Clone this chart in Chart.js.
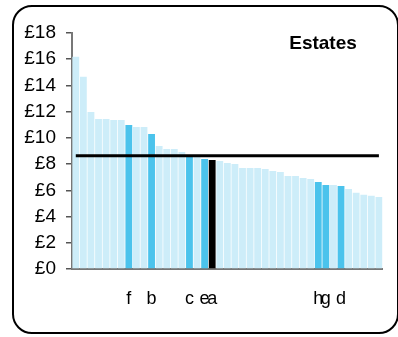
<!DOCTYPE html>
<html>
<head>
<meta charset="utf-8">
<script src="https://cdn.jsdelivr.net/npm/chart.js@4/dist/chart.umd.min.js"></script>
<style>
  body { margin: 0; background: #fff; }
  #wrap { position: relative; width: 398px; height: 337px; overflow: hidden; }
  #frame {
    position: absolute; left: 12px; top: 5px;
    width: 383px; height: 325px;
    border: 2px solid #000; border-radius: 20px;
  }
  #costChart { position: absolute; left: 0; top: 0; }
</style>
</head>
<body>
<div id="wrap">
  <div id="frame"></div>
  <canvas id="costChart" width="398" height="337"></canvas>
</div>
<script>
// cost per estate, sorted high to low
const codes = ["", "", "", "", "", "", "", "f", "", "",
               "b", "", "", "", "", "c", "", "e", "a", "",
               "", "", "", "", "", "", "", "", "", "",
               "", "", "h", "g", "", "d", "", "", "", "", ""];
const costs = [16.18, 14.66, 11.97, 11.44, 11.44, 11.36, 11.36, 10.98, 10.83, 10.83,
               10.30, 9.38, 9.15, 9.15, 8.92, 8.68, 8.55, 8.39, 8.32, 8.24,
               8.09, 8.01, 7.71, 7.71, 7.71, 7.63, 7.48, 7.40, 7.10, 7.10,
               6.95, 6.87, 6.64, 6.41, 6.41, 6.34, 6.11, 5.81, 5.66, 5.58, 5.50];
const averageCost = 8.63;
const yTicks = [0, 2, 4, 6, 8, 10, 12, 14, 16, 18];

const FONT = "'Liberation Sans', Arial, sans-serif";

const barColours = codes.map(c => c === "a" ? "#000000" : (c ? "#4BC3EC" : "#CDEDF9"));

// "Estates" label inside the plot
const titlePlugin = {
  id: "estatesTitle",
  afterDraw(chart) {
    const ctx = chart.ctx;
    ctx.save();
    ctx.font = "bold 19px " + FONT;
    ctx.fillStyle = "#000";
    ctx.textAlign = "center";
    ctx.textBaseline = "middle";
    ctx.fillText("Estates", 323, 44);
    ctx.restore();
  }
};

new Chart(document.getElementById("costChart"), {
  type: "bar",
  data: {
    labels: codes,
    datasets: [
      {
        type: "line",
        data: codes.map(() => averageCost),
        borderColor: "#000",
        borderWidth: 3,
        pointRadius: 0,
        order: 0
      },
      {
        data: costs,
        backgroundColor: barColours,
        borderWidth: 0,
        barPercentage: 0.9,
        categoryPercentage: 1.0,
        order: 1
      }
    ]
  },
  options: {
    responsive: false,
    animation: false,
    layout: { padding: { left: 0, right: 8, top: 33, bottom: 0 } },
    plugins: { legend: { display: false }, tooltip: { enabled: false } },
    scales: {
      x: {
        grid: { drawOnChartArea: false, drawTicks: false },
        border: { display: true, color: "#777", width: 2 },
        ticks: {
          autoSkip: false, maxRotation: 0, padding: 19,
          color: "#000", font: { family: FONT, size: 18 }
        },
        afterFit(scale) { scale.height = 68; }
      },
      y: {
        min: 0, max: 18,
        afterBuildTicks(scale) { scale.ticks = yTicks.map(v => ({ value: v })); },
        grid: { drawOnChartArea: false, drawTicks: true, tickLength: 6, color: "#555", lineWidth: 1.5 },
        border: { display: true, color: "#777", width: 2 },
        ticks: {
          padding: 10, color: "#000",
          font: { family: FONT, size: 19 },
          callback: v => "£" + v
        },
        afterFit(scale) { scale.width = 72; }
      }
    }
  },
  plugins: [titlePlugin]
});
</script>
</body>
</html>
